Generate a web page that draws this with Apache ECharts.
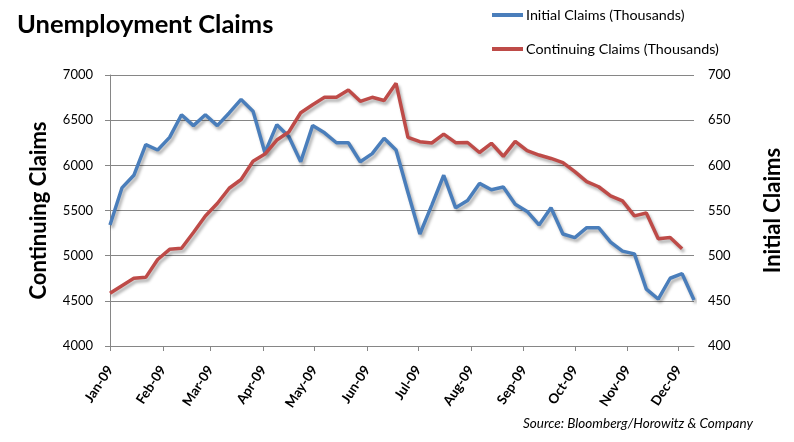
<!DOCTYPE html>
<html>
<head>
<meta charset="utf-8">
<script src="https://cdn.jsdelivr.net/npm/echarts@6/dist/echarts.min.js"></script>
<style>html,body{margin:0;padding:0;background:#fff}#c{width:794px;height:442px}</style>
</head>
<body>
<div id="c"></div>
<script>
// Week dates (weekly observations)
const weekDates = [
  '2009-01-01','2009-01-08','2009-01-15','2009-01-22','2009-01-29',
  '2009-02-05','2009-02-12','2009-02-19','2009-02-26',
  '2009-03-05','2009-03-12','2009-03-19','2009-03-26',
  '2009-04-02','2009-04-09','2009-04-16','2009-04-23','2009-04-30',
  '2009-05-07','2009-05-14','2009-05-21','2009-05-28',
  '2009-06-04','2009-06-11','2009-06-18','2009-06-25',
  '2009-07-02','2009-07-09','2009-07-16','2009-07-23','2009-07-30',
  '2009-08-06','2009-08-13','2009-08-20','2009-08-27',
  '2009-09-03','2009-09-10','2009-09-17','2009-09-24',
  '2009-10-01','2009-10-08','2009-10-15','2009-10-22','2009-10-29',
  '2009-11-05','2009-11-12','2009-11-19','2009-11-26',
  '2009-12-03','2009-12-10'
];
// Initial Claims (thousands) - right axis
const initialClaims = [
  534,575,589,623,617,631,656,644,656,644,
  658,673,660,614,645,632,604,644,636,625,
  625,604,613,630,617,570,524,556,589,553,
  561,580,573,576,557,549,534,553,524,520,
  531,531,515,505,502,463,452,475,480,451
];
// Continuing Claims (thousands) - left axis
const continuingClaims = [
  4583,4668,4749,4760,4958,5070,5082,5256,5439,5577,
  5746,5843,6045,6125,6280,6369,6582,6671,6753,6753,
  6834,6709,6753,6718,6908,6310,6262,6247,6345,6251,
  6253,6142,6244,6100,6266,6162,6114,6076,6031,5930,
  5819,5763,5661,5607,5441,5472,5187,5201,5077
];
// Month tick positions and labels
const monthStarts = ['2009-01-01','2009-02-01','2009-03-01','2009-04-01','2009-05-01','2009-06-01',
  '2009-07-01','2009-08-01','2009-09-01','2009-10-01','2009-11-01','2009-12-01'];
const monthLabels = ['Jan-09','Feb-09','Mar-09','Apr-09','May-09','Jun-09',
  'Jul-09','Aug-09','Sep-09','Oct-09','Nov-09','Dec-09'];

const toTs = s => { const p = s.split('-'); return Date.UTC(+p[0], +p[1]-1, +p[2]); };
const monthTs = monthStarts.map(toTs);
const labelFor = v => { const i = monthTs.indexOf(v); return i >= 0 ? monthLabels[i] : ''; };

const FONT = 'Lato, "Open Sans", sans-serif';
const chart = echarts.init(document.getElementById('c'), null, {renderer: 'canvas'});
const shadow = {shadowColor: 'rgba(0,0,0,0.3)', shadowBlur: 3, shadowOffsetX: 2, shadowOffsetY: 3};
chart.setOption({
  animation: false,
  backgroundColor: '#fff',
  title: {
    text: 'Unemployment Claims', left: 12, top: 7,
    textStyle: {fontFamily: FONT, fontWeight: 'bold', fontSize: 25.5, color: '#000'}
  },
  legend: {
    orient: 'vertical', left: 487, top: 3, itemGap: 20,
    itemWidth: 31, itemHeight: 4, icon: 'rect',
    textStyle: {fontFamily: FONT, fontSize: 14.3, color: '#000', padding: [0,0,0,-2]},
    data: ['Initial Claims (Thousands)', 'Continuing Claims (Thousands)']
  },
  graphic: [{
    type: 'text', left: 523, top: 417,
    style: {text: 'Source: Bloomberg/Horowitz & Company', font: 'italic 13.5px ' + FONT, fill: '#000'}
  }],
  grid: {left: 110, right: 100, top: 75, bottom: 96},
  xAxis: {
    type: 'value',
    min: toTs('2009-01-01'), max: toTs('2009-12-10'),
    axisLine: {lineStyle: {color: '#868686', width: 1}},
    axisTick: {show: true, length: 5, customValues: monthTs, lineStyle: {color: '#868686'}},
    axisLabel: {
      customValues: monthTs, rotate: 57, margin: 21,
      formatter: labelFor,
      fontFamily: FONT, fontWeight: 'bold', fontSize: 13.5, color: '#000'
    },
    splitLine: {show: false}
  },
  yAxis: [{
    type: 'value', min: 4000, max: 7000, interval: 500, position: 'left',
    name: 'Continuing Claims', nameLocation: 'middle', nameGap: 60, nameRotate: 90,
    nameTextStyle: {fontFamily: FONT, fontWeight: 'bold', fontSize: 22, color: '#000'},
    axisLine: {show: true, lineStyle: {color: '#868686'}},
    axisTick: {show: true, length: 5, lineStyle: {color: '#868686'}},
    axisLabel: {fontFamily: FONT, fontSize: 13, color: '#000', margin: 17, formatter: v => String(v)},
    splitLine: {lineStyle: {color: '#868686', width: 1}}
  }, {
    type: 'value', min: 400, max: 700, interval: 50, position: 'right',
    name: 'Initial Claims', nameLocation: 'middle', nameGap: 68, nameRotate: 90,
    nameTextStyle: {fontFamily: FONT, fontWeight: 'bold', fontSize: 22, color: '#000'},
    axisLine: {show: false},
    axisTick: {show: false},
    axisLabel: {fontFamily: FONT, fontSize: 13, color: '#000', margin: 14, formatter: v => String(v)},
    splitLine: {show: false}
  }],
  series: [{
    name: 'Initial Claims (Thousands)', type: 'line', yAxisIndex: 1,
    symbol: 'none', color: '#4A7EBB',
    lineStyle: Object.assign({width: 3.5, color: '#4A7EBB'}, shadow),
    data: weekDates.map((d, i) => [toTs(d), initialClaims[i]])
  }, {
    name: 'Continuing Claims (Thousands)', type: 'line', yAxisIndex: 0,
    symbol: 'none', color: '#BE4B48',
    lineStyle: Object.assign({width: 3.5, color: '#BE4B48'}, shadow),
    data: continuingClaims.map((v, i) => [toTs(weekDates[i]), v])
  }]
});
</script>
</body>
</html>
